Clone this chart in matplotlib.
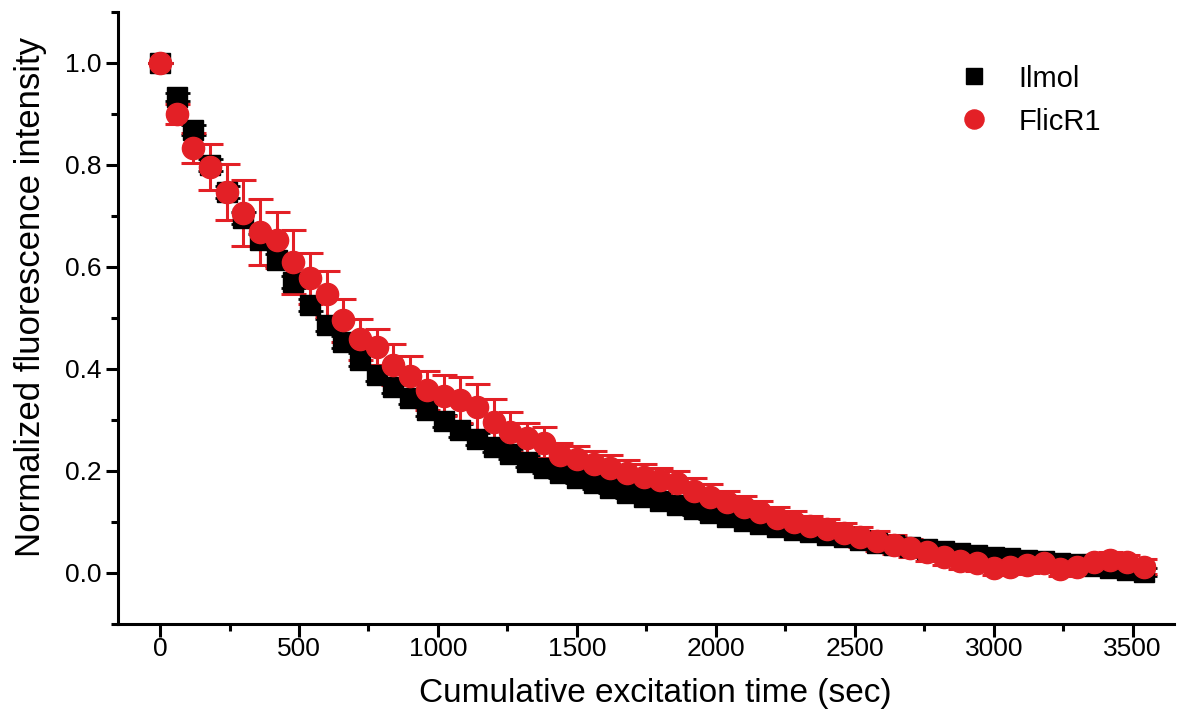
import matplotlib
matplotlib.use("Agg")
import matplotlib.pyplot as plt
from matplotlib.ticker import MultipleLocator

plt.rcParams['font.family'] = ['Liberation Sans', 'DejaVu Sans']

time_sec = [60 * i for i in range(60)]

ilmol = [1.0, 0.933, 0.868, 0.800, 0.747, 0.696, 0.653, 0.613, 0.570, 0.525,
         0.486, 0.452, 0.418, 0.388, 0.365, 0.343, 0.320, 0.298, 0.279, 0.262,
         0.246, 0.232, 0.218, 0.206, 0.195, 0.185, 0.175, 0.166, 0.157, 0.148,
         0.140, 0.132, 0.124, 0.116, 0.109, 0.102, 0.096, 0.090, 0.084, 0.079,
         0.074, 0.069, 0.064, 0.059, 0.054, 0.050, 0.046, 0.042, 0.038, 0.035,
         0.031, 0.028, 0.025, 0.022, 0.019, 0.016, 0.013, 0.010, 0.006, 0.002]
ilmol_err = [0.0, 0.008, 0.010, 0.012, 0.012, 0.012, 0.012, 0.012, 0.012, 0.012,
             0.012, 0.012, 0.012, 0.012, 0.012, 0.012, 0.012, 0.012, 0.012, 0.012,
             0.010, 0.010, 0.010, 0.010, 0.010, 0.010, 0.010, 0.010, 0.010, 0.010,
             0.010, 0.010, 0.010, 0.010, 0.010, 0.010, 0.010, 0.010, 0.010, 0.010,
             0.008, 0.008, 0.008, 0.008, 0.008, 0.008, 0.008, 0.008, 0.008, 0.008,
             0.008, 0.008, 0.008, 0.008, 0.008, 0.008, 0.008, 0.008, 0.008, 0.008]

flicr1 = [1.0, 0.900, 0.833, 0.796, 0.747, 0.706, 0.668, 0.652, 0.609, 0.578,
          0.546, 0.495, 0.458, 0.443, 0.408, 0.386, 0.358, 0.347, 0.338, 0.325,
          0.296, 0.276, 0.264, 0.255, 0.230, 0.223, 0.214, 0.206, 0.195, 0.188,
          0.181, 0.175, 0.160, 0.148, 0.138, 0.128, 0.118, 0.108, 0.100, 0.092,
          0.086, 0.078, 0.070, 0.062, 0.055, 0.048, 0.040, 0.030, 0.022, 0.018,
          0.010, 0.012, 0.015, 0.018, 0.008, 0.012, 0.020, 0.025, 0.020, 0.012]
flicr1_err = [0.0, 0.020, 0.030, 0.045, 0.055, 0.065, 0.065, 0.055, 0.063, 0.050,
              0.045, 0.042, 0.040, 0.035, 0.040, 0.040, 0.038, 0.040, 0.045, 0.045,
              0.045, 0.040, 0.030, 0.030, 0.025, 0.025, 0.025, 0.025, 0.025, 0.025,
              0.025, 0.025, 0.025, 0.025, 0.022, 0.022, 0.022, 0.020, 0.020, 0.020,
              0.020, 0.020, 0.020, 0.020, 0.018, 0.018, 0.018, 0.015, 0.015, 0.015,
              0.015, 0.015, 0.015, 0.015, 0.015, 0.015, 0.015, 0.015, 0.015, 0.015]

fig = plt.figure(figsize=(11.87, 7.18), dpi=100)
ax = fig.add_axes([0.0997, 0.1315, 0.8897, 0.8518])

ax.errorbar(time_sec, ilmol, yerr=ilmol_err, fmt='s', color='black',
            markersize=14, elinewidth=2, capsize=9, capthick=2, label='Ilmol')
ax.errorbar(time_sec, flicr1, yerr=flicr1_err, fmt='o', color='#e32026',
            markersize=16, elinewidth=2.2, capsize=9, capthick=2.2, label='FlicR1')

ax.set_xlim(-150, 3650)
ax.set_ylim(-0.1, 1.1)
ax.xaxis.set_major_locator(MultipleLocator(500))
ax.xaxis.set_minor_locator(MultipleLocator(250))
ax.yaxis.set_major_locator(MultipleLocator(0.2))
ax.yaxis.set_minor_locator(MultipleLocator(0.1))
ax.yaxis.set_major_formatter(plt.FormatStrFormatter('%.1f'))

for side in ['top', 'right']:
    ax.spines[side].set_visible(False)
for side in ['left', 'bottom']:
    ax.spines[side].set_linewidth(2.2)
ax.tick_params(which='major', direction='out', length=9, width=2.2, labelsize=19, pad=3)
ax.tick_params(which='minor', direction='out', length=5, width=2.2)
ax.tick_params(axis='x', which='major', pad=1)

ax.set_xlabel('Cumulative excitation time (sec)', fontsize=24)
ax.set_ylabel('Normalized fluorescence intensity', fontsize=25)
ax.xaxis.set_label_coords(0.508, -0.089)
ax.yaxis.set_label_coords(-0.0675, 0.534)

handles, labels = ax.get_legend_handles_labels()
handles = [h[0] for h in handles]
fig.legend(handles, labels, loc='upper left', bbox_to_anchor=(919 / 1187, 0.9467),
           frameon=False, fontsize=21, markerscale=0.86, handletextpad=0.5,
           labelspacing=0.52)

fig.savefig('out.png', dpi=100)
